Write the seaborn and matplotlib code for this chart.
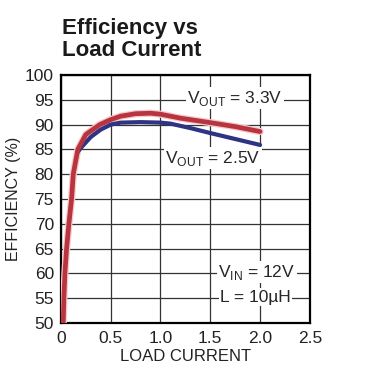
import numpy as np
import pandas as pd
import seaborn as sns
import matplotlib
matplotlib.use("Agg")
import matplotlib.pyplot as plt

# values
load_33 = [0.023, 0.03, 0.04, 0.057, 0.08, 0.107, 0.124, 0.17, 0.25, 0.39, 0.5, 0.6, 0.75, 0.9, 1.0, 1.2, 1.5, 1.75, 2.0]
eff_33 = [50, 55, 60, 65, 70, 75, 80, 85, 88, 90, 91, 91.7, 92.2, 92.3, 92.1, 91.3, 90.4, 89.6, 88.6]
load_25 = [0.17, 0.2, 0.3, 0.4, 0.5, 0.6, 0.8, 1.0, 1.1, 1.3, 1.5, 1.75, 2.0]
eff_25 = [84.5, 85.3, 87.5, 89.0, 90.0, 90.4, 90.5, 90.4, 90.2, 89.3, 88.3, 87.1, 85.9]

x_ticks = [0, 0.5, 1.0, 1.5, 2.0, 2.5]
x_labels = ["0", "0.5", "1.0", "1.5", "2.0", "2.5"]
y_ticks = list(range(50, 101, 5))

df33 = pd.DataFrame({"load": load_33, "eff": eff_33})
df25 = pd.DataFrame({"load": load_25, "eff": eff_25})

sns.set_theme(style="white")
plt.rcParams["font.family"] = ["Liberation Sans", "DejaVu Sans"]
plt.rcParams["mathtext.fontset"] = "custom"
plt.rcParams["mathtext.rm"] = "Liberation Sans"

fig = plt.figure(figsize=(3.76, 3.79), dpi=100)
ax = fig.add_axes([0.162, 0.148, 0.662, 0.654])

# pale halo under the red curve, then the curves
sns.lineplot(data=df33, x="load", y="eff", ax=ax, color="#f6c9cc", lw=5.2, sort=False, zorder=3)
sns.lineplot(data=df25, x="load", y="eff", ax=ax, color="#2f3384", lw=3.0, sort=False, zorder=4)
sns.lineplot(data=df33, x="load", y="eff", ax=ax, color="#b8343f", lw=3.4, sort=False, zorder=5)

ax.set_xlim(0, 2.5)
ax.set_ylim(50, 100)
ax.set_xticks(x_ticks)
ax.set_xticklabels(x_labels)
ax.set_yticks(y_ticks)
ax.tick_params(axis="x", length=0, pad=6, labelsize=12.5, colors="#222222")
ax.tick_params(axis="y", length=0, pad=5, labelsize=12.5, colors="#222222")
ax.grid(True, color="#333333", lw=0.9)
for s in ax.spines.values():
    s.set_color("black")
    s.set_linewidth(1.6)

ax.set_xlabel("LOAD CURRENT", fontsize=12, color="#222222", labelpad=2)
ax.set_ylabel("EFFICIENCY (%)", fontsize=11.5, color="#222222", labelpad=3)

box = dict(facecolor="white", edgecolor="none", pad=1)
ax.text(1.75, 95.3, r"V$_{\mathrm{OUT}}$ = 3.3V", fontsize=12.5, ha="center", va="center", bbox=box, zorder=6)
ax.text(1.05, 83.2, r"V$_{\mathrm{OUT}}$ = 2.5V", fontsize=12.5, ha="left", va="center", bbox=box, zorder=6)
ax.text(1.58, 60.2, r"V$_{\mathrm{IN}}$ = 12V", fontsize=12.5, ha="left", va="center", bbox=box, zorder=6)
ax.text(1.6, 55.2, "L = 10µH", fontsize=12.5, ha="left", va="center", bbox=box, zorder=6)

fig.text(0.165, 0.895, "Efficiency vs\nLoad Current", fontsize=16, fontweight="bold",
         ha="left", va="center", linespacing=1.05, color="#1a1a1a")

fig.savefig("out.png", dpi=100, facecolor="white")
